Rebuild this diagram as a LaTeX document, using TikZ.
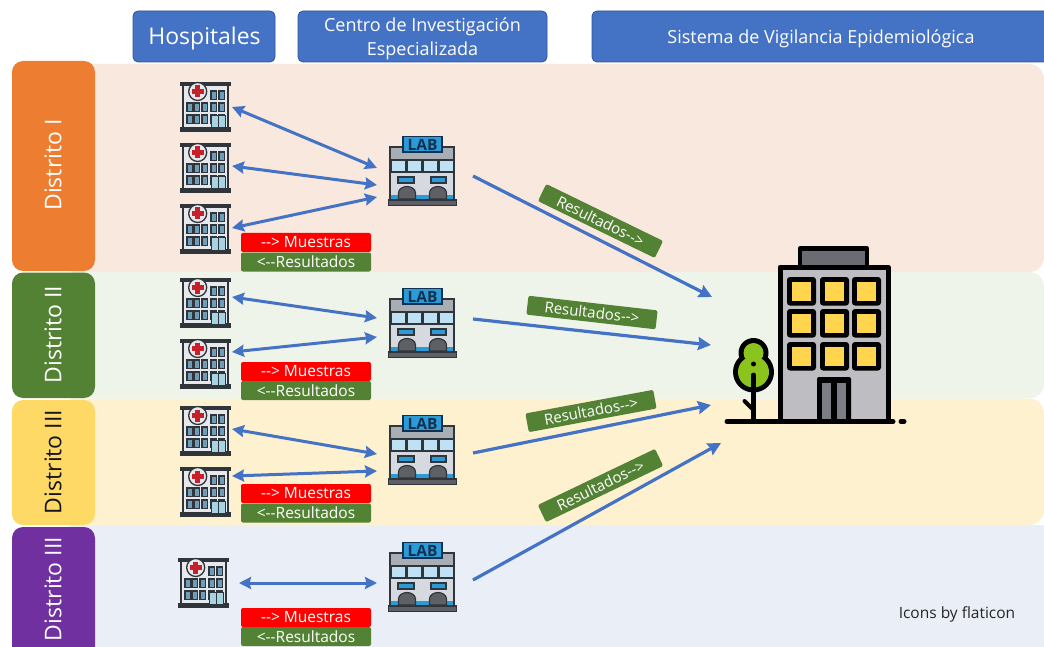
\documentclass[tikz,border=0pt]{standalone}
\usepackage{fontspec}
\setmainfont{Open Sans}
\usetikzlibrary{arrows.meta}
\definecolor{hdr}{HTML}{4472C4}
\definecolor{hdrb}{HTML}{2F5597}
\definecolor{flow}{HTML}{4472C4}
\definecolor{grn}{HTML}{548235}
\definecolor{icl}{HTML}{30353B}
\definecolor{wglass}{HTML}{6F9DB8}
\definecolor{hwall}{HTML}{E6E8EB}
\definecolor{hdoor}{HTML}{A6D4E2}
\definecolor{crossred}{HTML}{C8202B}
\definecolor{lsign}{HTML}{2A9BD6}
\definecolor{lnavy}{HTML}{12304F}
\definecolor{lwin}{HTML}{BFE1F4}
\definecolor{lwall}{HTML}{D6D9DF}
\definecolor{ltop}{HTML}{A9ADB4}
\definecolor{larch}{HTML}{5F6066}
\definecolor{b1}{HTML}{F8E8DD}
\definecolor{b2}{HTML}{EFF4EA}
\definecolor{b3}{HTML}{FDF1D0}
\definecolor{b4}{HTML}{E9EEF7}
\definecolor{s1}{HTML}{ED7D31}
\definecolor{s3}{HTML}{FFD966}
\definecolor{s4}{HTML}{7030A0}
\definecolor{bgray}{HTML}{BDBDC2}
\definecolor{broof}{HTML}{6B6B73}
\definecolor{bdoor}{HTML}{7D7D85}
\definecolor{bwin}{HTML}{FFD54F}
\definecolor{btree}{HTML}{8CC41E}
\tikzset{
  x=1pt,y=-1pt,
  header/.style={draw=hdrb,line width=.8pt,fill=hdr,rounded corners=5pt,inner sep=0pt},
  headtext/.style={text=white,align=center,inner sep=0pt,font=\fontsize{18}{24.5}\selectfont},
  side/.style={fill=#1,rounded corners=11pt,draw=none},
  sidetext/.style={text=white,rotate=90,font=\fontsize{23}{27}\selectfont,inner sep=0pt},
  band/.style={fill=#1,rounded corners=15pt,draw=none},
  tag/.style={fill=#1,rounded corners=2pt,text=white,minimum width=130pt,minimum height=19pt,inner sep=0pt,font=\fontsize{15.5}{17}\selectfont},
  restag/.style={fill=grn,rounded corners=2pt,text=white,minimum width=130pt,minimum height=19pt,inner sep=0pt,font=\fontsize{15}{17}\selectfont},
  flowline/.style={draw=flow,line width=3pt,{Stealth[length=12pt,width=12pt,inset=1.5pt]}-{Stealth[length=12pt,width=12pt,inset=1.5pt]}},
  oneway/.style={draw=flow,line width=3.2pt,-{Stealth[length=13pt,width=13pt,inset=1.5pt]}},
  hosp/.pic={
    \fill[fill=hwall,draw=icl,line width=1.2pt] (3,2) rectangle (48,46);
    \fill[icl] (0,0) rectangle (51,4);
    \fill[icl] (0,45) rectangle (51,50);
    \foreach \xx in {7,14,22,31,39}{
      \foreach \yy in {21,33}{
        \fill[fill=wglass,draw=icl,line width=1.1pt] (\xx,\yy) rectangle ++(5.2,8.5);
      }
    }
    \foreach \xx in {31,39}{
      \fill[fill=wglass,draw=icl,line width=1.1pt] (\xx,9) rectangle ++(5.2,8.5);
    }
    \fill[fill=hdoor,draw=icl,line width=1pt] (31,34) rectangle (45,46);
    \draw[icl,line width=.9pt] (38,34) -- (38,46);
    \fill[fill=hwall,draw=icl,line width=1.3pt] (17.7,9.5) circle[radius=9pt];
    \fill[crossred] (15.4,3.5) rectangle (20,15.5);
    \fill[crossred] (11.7,7.2) rectangle (23.7,11.8);
  },
  labicon/.pic={
    \fill[fill=lwall,draw=icl,line width=1.4pt] (2,11) rectangle (66,64);
    \fill[fill=ltop,draw=none] (3,12) rectangle (65,24);
    \foreach \xx in {3,19,35,51}{
      \fill[fill=lwin,draw=icl,line width=1.2pt] (\xx,24) rectangle ++(15,12);
    }
    \fill[fill=lsign,draw=icl,line width=1.2pt] (10,41) rectangle (26,47);
    \fill[fill=lsign,draw=icl,line width=1.2pt] (43,41) rectangle (58,47);
    \fill[lsign] (3,59) rectangle (65,63);
    \foreach \xx in {19,50}{
      \fill[fill=larch,draw=icl,line width=1.2pt] (\xx-8.5,63) -- (\xx-8.5,57) .. controls (\xx-8.5,53) and (\xx-4,50.5) .. (\xx,50.5) .. controls (\xx+4,50.5) and (\xx+8.5,53) .. (\xx+8.5,57) -- (\xx+8.5,63) -- cycle;
    }
    \fill[fill=larch,draw=icl,line width=1.2pt] (0.5,64) rectangle (68.5,69.5);
    \fill[fill=lsign,draw=lnavy,line width=1.4pt] (15,0.7) rectangle (54,16);
    \node[inner sep=0pt,text=lnavy,font=\fontsize{15.5}{15}\bfseries\selectfont] at (34.5,8.5) {LAB};
  }
}
\begin{document}
\begin{tikzpicture}
\useasboundingbox (0,0) rectangle (1044,647);
\clip (0,0) rectangle (1044,647);
% bands
\fill[band=b1] (60,64) rectangle (1044,272);
\fill[band=b2] (60,272) rectangle (1044,398.5);
\fill[band=b3] (60,398.5) rectangle (1044,525);
\fill[band=b4] (60,525) rectangle (1058,660);
% side bars
\fill[side=s1] (12,61) rectangle (95,271);
\fill[side=grn] (12,272.5) rectangle (95,398);
\fill[side=s3] (12,400) rectangle (95,525);
\fill[side=s4] (12,527) rectangle (95,660);
\node[sidetext] (d1) at (53,165) {Distrito I};
\node[sidetext] (d2) at (53,334.5) {Distrito II};
\node[sidetext,text=icl!40!black] (d3) at (53,462) {Distrito III};
\node[sidetext] (d4) at (53,589) {Distrito III};
% headers
\node[header,minimum width=142pt,minimum height=51pt] (hA) at (204,36.5) {};
\node[headtext,font=\fontsize{23}{26}\selectfont] (hAt) at (204.5,38.5) {Hospitales};
\node[header,minimum width=249pt,minimum height=51pt] (hB) at (422.5,36.5) {};
\node[headtext] (hBt) at (422.5,39) {Centro de Investigación\\Especializada};
\fill[hdr,draw=hdrb,line width=.8pt,rounded corners=5pt] (592,11) rectangle (1060,62);
\node[headtext] (hC) at (821,39) {Sistema de Vigilancia Epidemiológica};
% hospitals
\pic at (180,82) {hosp};
\pic at (180,143) {hosp};
\pic at (180,204) {hosp};
\pic at (180,278) {hosp};
\pic at (180,339) {hosp};
\pic at (180,406) {hosp};
\pic at (180,467) {hosp};
\pic at (178,558) {hosp};
% labs
\pic at (388,136) {labicon};
\pic at (388,288) {labicon};
\pic at (388,415) {labicon};
\pic at (388,542) {labicon};
% building
\begin{scope}[shift={(720,240)}]
\fill[fill=broof,draw=black,line width=4.5pt,line join=round] (80,8.5) rectangle (147,28);
\fill[fill=bgray,draw=black,line width=5pt,line join=round] (60,27) rectangle (168,181);
\foreach \xx in {67,100,132}{
  \foreach \yy in {37,69,102}{
    \fill[black,rounded corners=3pt] (\xx,\yy) rectangle ++(29,28.5);
    \fill[bwin] (\xx+5,\yy+5) rectangle ++(19,18.5);
  }
}
\fill[black,rounded corners=2pt] (97,137) rectangle (131,182);
\fill[bdoor] (102,143) rectangle (111,179);
\fill[bdoor] (117,143) rectangle (126,179);
\fill[black] (33.5,113) circle[radius=15pt];
\fill[black] (33.5,132) circle[radius=20.5pt];
\fill[btree] (33.5,113) circle[radius=10pt];
\fill[btree] (33.5,132) circle[radius=15.5pt];
\draw[black,line width=5pt,line cap=round] (33.5,135) -- (33.5,180);
\draw[black,line width=4pt,line cap=round] (33.5,170) -- (24.5,161);
\fill[black] (33.5,124) circle[radius=2.5pt];
\draw[black,line width=5pt,line cap=round] (7,181.5) -- (173,181.5);
\draw[black,line width=5pt,line cap=round] (181,181.5) -- (184,181.5);
\end{scope}
% named arrow ends
\coordinate (a1) at (232,107); \coordinate (b1) at (377,168);
\coordinate (a2) at (232,166); \coordinate (b2) at (377,185);
\coordinate (a3) at (232,228); \coordinate (b3) at (377,197);
\coordinate (a4) at (232,297); \coordinate (b4) at (377,318);
\coordinate (a5) at (232,352); \coordinate (b5) at (377,337);
\coordinate (a6) at (232,429); \coordinate (b6) at (377,454);
\coordinate (a7) at (232,476); \coordinate (b7) at (377,471);
\coordinate (a8) at (239,583); \coordinate (b8) at (377,583);
\coordinate (c1) at (473,176); \coordinate (e1) at (712,297);
\coordinate (c2) at (473,319); \coordinate (e2) at (711,345);
\coordinate (c3) at (473,453); \coordinate (e3) at (711,405);
\coordinate (c4) at (473,580); \coordinate (e4) at (721,443);
\foreach \i in {1,...,8}{ \draw[flowline] (a\i) -- (b\i); }
\foreach \i in {1,...,4}{ \draw[oneway] (c\i) -- (e\i); }
% legend tags
\node[tag=red] (m1) at (306,242.5) {-{}-> Muestras};
\node[tag=grn] (r1) at (306,262) {<-{}-Resultados};
\node[tag=red] (m2) at (306,371.5) {-{}-> Muestras};
\node[tag=grn] (r2) at (306,390.5) {<-{}-Resultados};
\node[tag=red] (m3) at (306,493.5) {-{}-> Muestras};
\node[tag=grn] (r3) at (306,513) {<-{}-Resultados};
\node[tag=red] (m4) at (306,617.5) {-{}-> Muestras};
\node[tag=grn] (r4) at (306,636.5) {<-{}-Resultados};
% result tags
\node[restag,rotate=-26] (t1) at (600.5,221) {Resultados-{}->};
\node[restag,rotate=-6.5] (t2) at (592,312.5) {Resultados-{}->};
\node[restag,rotate=10.5] (t3) at (591,411) {Resultados-{}->};
\node[restag,rotate=25.6] (t4) at (600.5,485.5) {Resultados-{}->};
\node[inner sep=0pt,text=black!85,font=\fontsize{15.5}{17}\selectfont] (cr) at (957,614) {Icons by flaticon};
\end{tikzpicture}
\end{document}
